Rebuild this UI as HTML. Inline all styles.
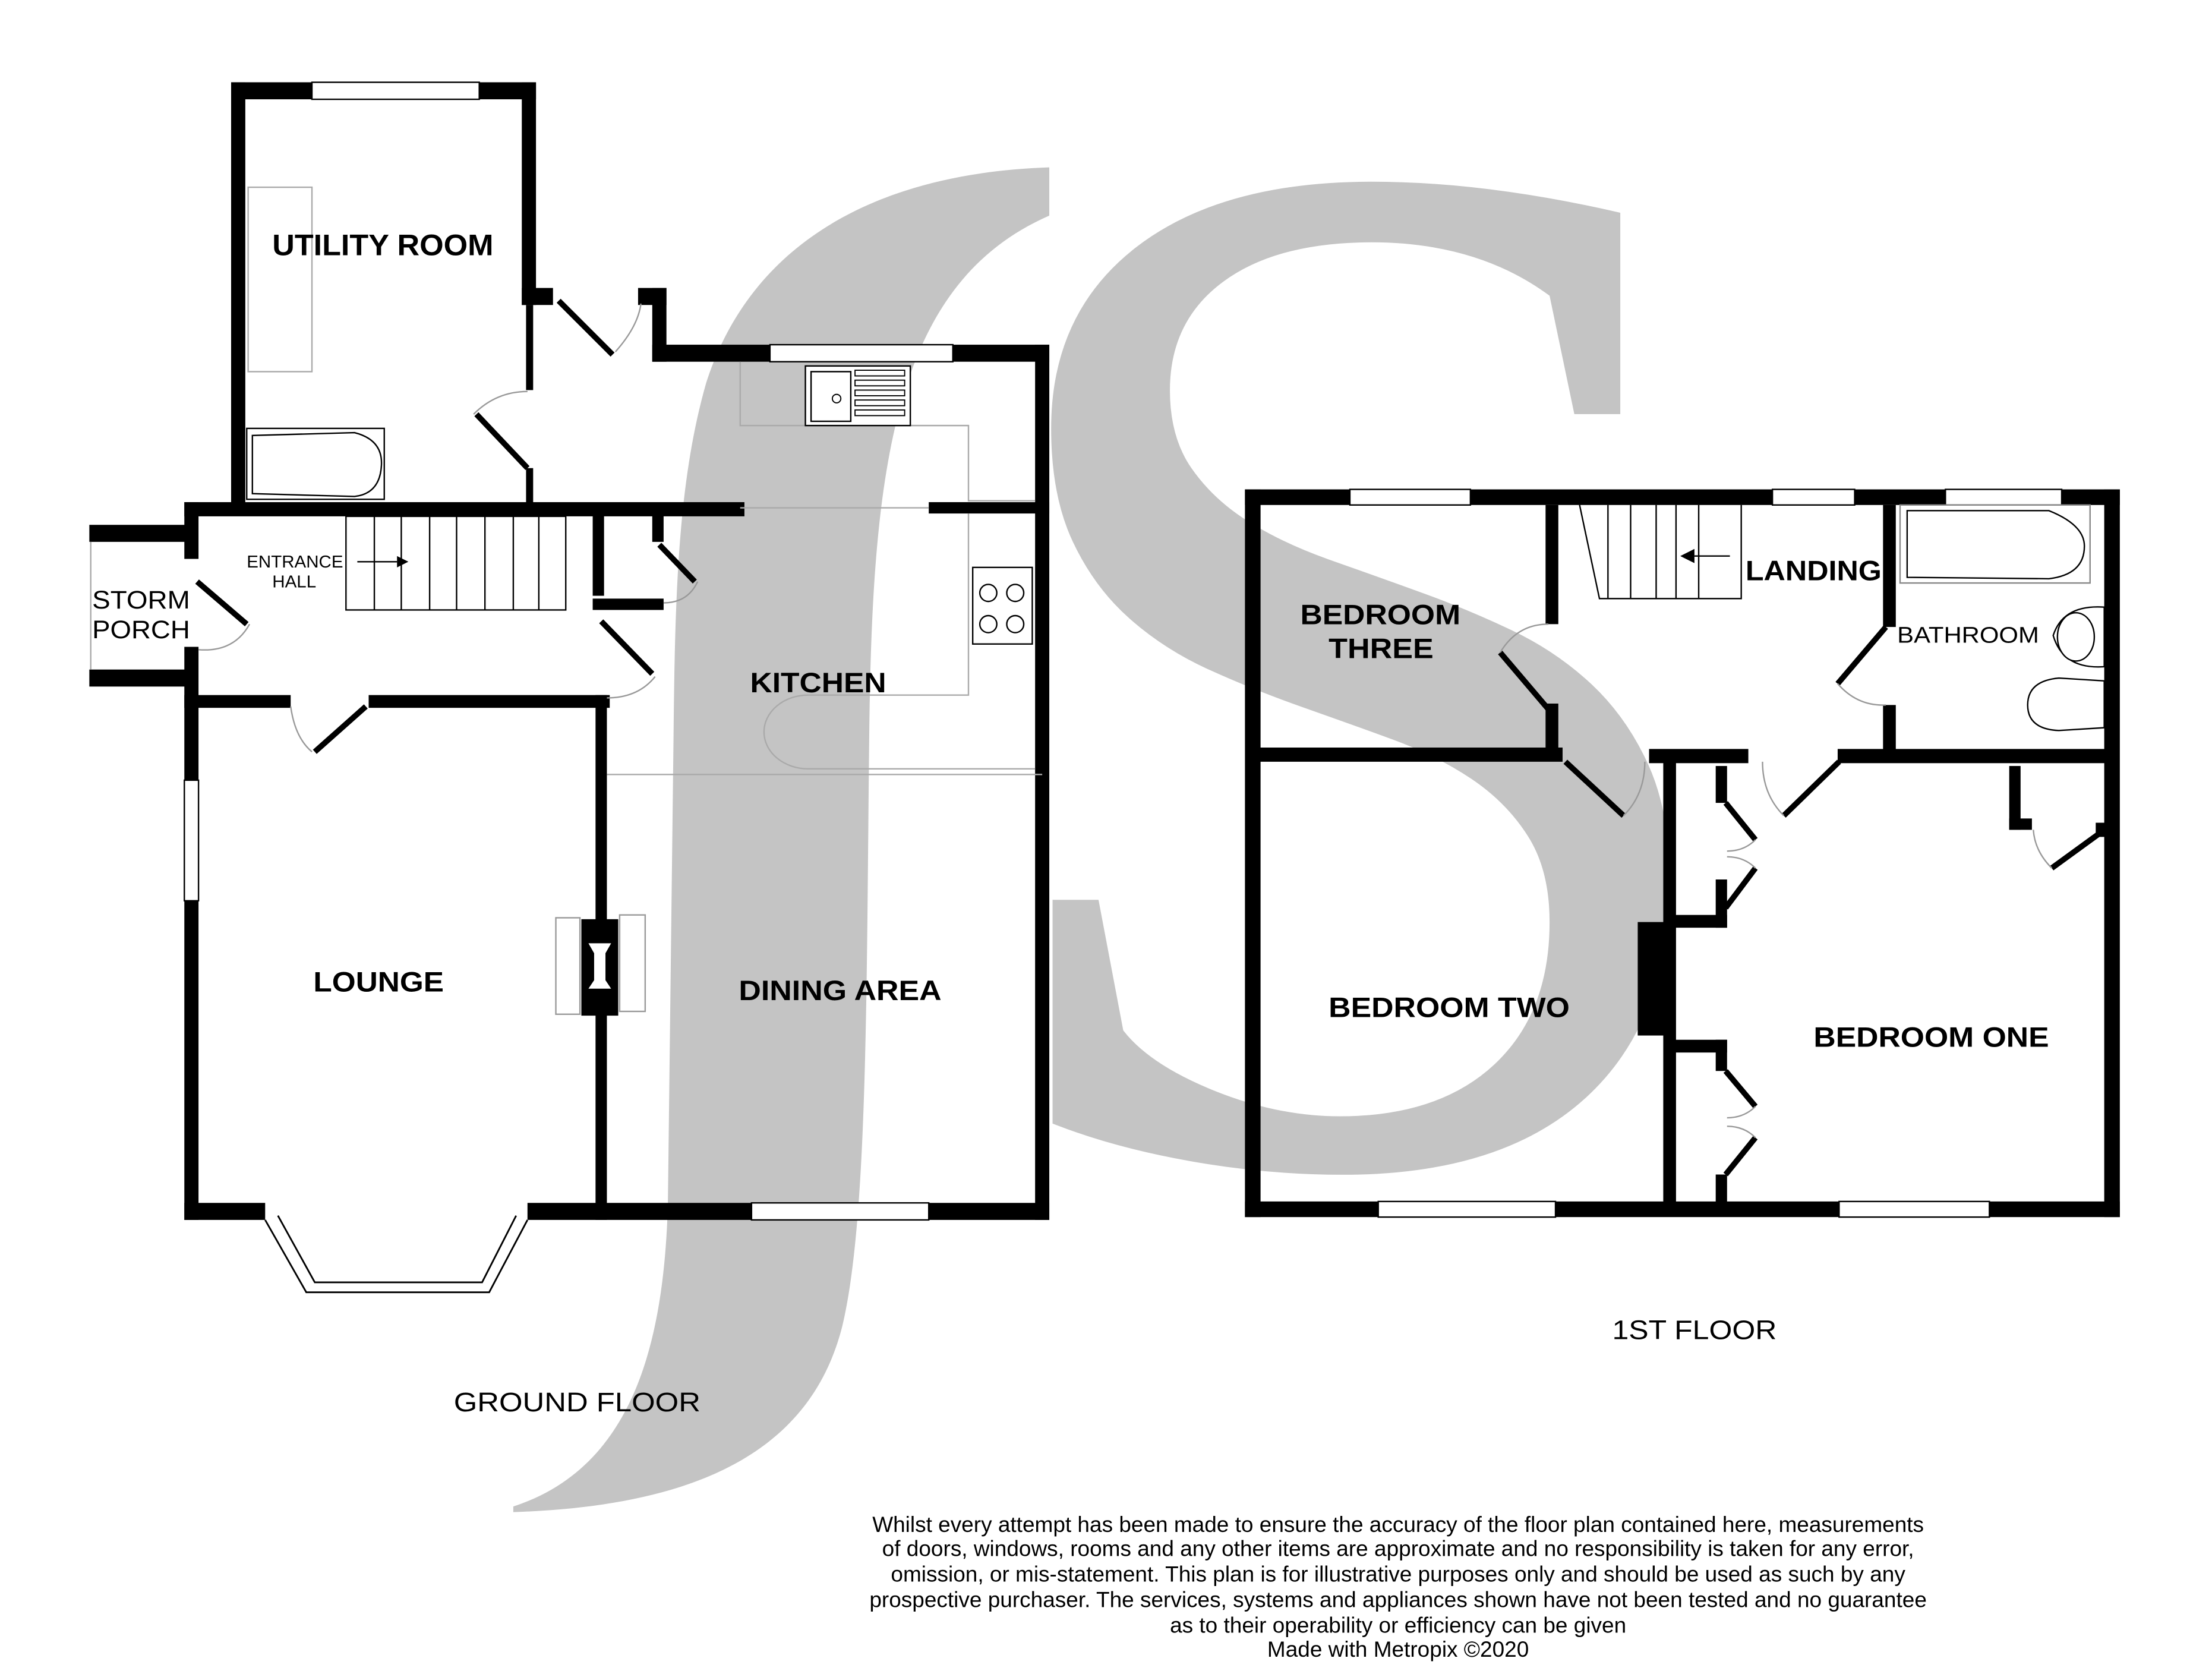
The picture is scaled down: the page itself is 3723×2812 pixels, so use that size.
<!DOCTYPE html>
<html><head><meta charset="utf-8"><style>
html,body{margin:0;padding:0;background:#fff;}
svg{display:block;}
</style></head><body>
<svg width="3723" height="2812" viewBox="0 0 1560 1178" preserveAspectRatio="none" xmlns="http://www.w3.org/2000/svg" font-family="Liberation Sans, sans-serif">
<rect width="1560" height="1178" fill="#fff"/>
<path fill="#c4c4c4" d="M740,118 C620,122 530,170 498,270 C478,340 476,420 475,520 L471,850 C468,950 445,1035 362,1062 L362,1066 C480,1062 570,1030 594,935 C612,860 611,700 613,520 C615,330 630,200 740,152 Z"/>
<text transform="translate(673,818) scale(0.98,1)" style="font-family:'Liberation Serif',serif;font-size:1042px;fill:#c4c4c4">S</text>
<g fill="#000">
<rect x="163" y="58" width="10" height="300"/>
<rect x="163" y="58" width="215" height="12"/>
<rect x="368" y="58" width="10" height="157"/>
<rect x="368" y="203" width="22" height="12"/>
<rect x="450" y="203" width="20" height="12"/>
<rect x="460" y="203" width="10" height="52"/>
<rect x="460" y="243" width="280" height="12"/>
<rect x="730" y="243" width="10" height="617"/>
<rect x="371" y="215" width="5" height="60"/>
<rect x="371" y="330" width="5" height="28"/>
<rect x="130" y="354" width="395" height="10"/>
<rect x="655" y="354" width="85" height="8"/>
<rect x="130" y="354" width="10" height="40"/>
<rect x="130" y="456" width="10" height="404"/>
<rect x="63" y="370" width="72" height="12"/>
<rect x="63" y="472" width="72" height="12"/>
<rect x="130" y="490" width="75" height="9"/>
<rect x="260" y="490" width="170" height="9"/>
<rect x="418" y="362" width="8" height="58"/>
<rect x="418" y="422" width="50" height="8"/>
<rect x="460" y="362" width="8" height="20"/>
<rect x="420" y="490" width="8" height="370"/>
<rect x="130" y="848" width="57" height="12"/>
<rect x="372" y="848" width="368" height="12"/>
<rect x="410" y="648" width="26" height="68"/>
</g>
<g fill="#fff" stroke="#000" stroke-width="1">
<rect x="220" y="58" width="118" height="12"/>
<rect x="543" y="243" width="129" height="12"/>
<rect x="530" y="848" width="125" height="12"/>
<rect x="130" y="550" width="10" height="85"/>
</g>
<line x1="64" y1="382" x2="64" y2="472" stroke="#aaa" stroke-width="1"/>
<rect x="392" y="647" width="17" height="68" fill="#fff" stroke="#999" stroke-width="1"/>
<rect x="437" y="645" width="18" height="68" fill="#fff" stroke="#999" stroke-width="1"/>
<path d="M415,665 L419,672 L419,691 L415,697 L431,697 L427,691 L427,672 L431,665 Z" fill="#fff"/>
<g stroke="#000" stroke-width="1.2" fill="none">
<path d="M187,860 L216,911 L345,911 L372,860"/>
<path d="M196,857 L222,904 L340,904 L364,857"/>
</g>
<g stroke="#000" stroke-width="4" fill="none">
<line x1="394" y1="212" x2="432" y2="250"/>
<line x1="336" y1="292" x2="372" y2="330"/>
<line x1="139" y1="410" x2="174" y2="440"/>
<line x1="222" y1="530" x2="258" y2="498"/>
<line x1="465" y1="384" x2="490" y2="410"/>
<line x1="424" y1="438" x2="460" y2="475"/>
</g>
<g stroke="#999" stroke-width="1" fill="none">
<path d="M434,248 Q450,230 452,214"/>
<path d="M334,292 Q350,276 372,276"/>
<path d="M176,440 Q165,460 140,458"/>
<path d="M205,498 Q208,520 220,530"/>
<path d="M492,410 Q485,425 468,425"/>
<path d="M462,477 Q450,492 428,492"/>
</g>
<g stroke="#000" stroke-width="1" fill="none">
<rect x="244" y="364" width="155" height="66"/>
<line x1="264" y1="364" x2="264" y2="430"/><line x1="283" y1="364" x2="283" y2="430"/>
<line x1="303" y1="364" x2="303" y2="430"/><line x1="322" y1="364" x2="322" y2="430"/>
<line x1="342" y1="364" x2="342" y2="430"/><line x1="362" y1="364" x2="362" y2="430"/>
<line x1="380" y1="364" x2="380" y2="430"/>
<line x1="252" y1="396" x2="280" y2="396"/>
</g>
<path d="M280,392 L288,396 L280,400Z"/>
<g stroke="#aaa" stroke-width="1" fill="none">
<path d="M522,255 L522,300 L683,300 L683,353 L730,353"/>
<path d="M683,362 L683,490 L570,490 A30,25 0 0 0 570,542 L730,542"/>
<line x1="428" y1="546" x2="735" y2="546"/>
<line x1="522" y1="358" x2="655" y2="358"/>
<rect x="175" y="132" width="45" height="130"/>
</g>
<g stroke="#000" stroke-width="1" fill="#fff">
<rect x="568" y="258" width="74" height="42"/>
<rect x="572" y="262" width="28" height="35" fill="none"/>
<rect x="174" y="302" width="97" height="50"/>
<path d="M178,307 L250,305 Q270,310 269,328 Q268,348 250,350 L178,348 Z"/>
<rect x="686" y="400" width="42" height="54"/>
<circle cx="697" cy="418" r="6"/><circle cx="716" cy="418" r="6"/>
<circle cx="697" cy="440" r="6"/><circle cx="716" cy="440" r="6"/>
</g>
<g stroke="#000" stroke-width="0.8" fill="none">
<rect x="603" y="261" width="35" height="4"/><rect x="603" y="268" width="35" height="4"/>
<rect x="603" y="275" width="35" height="4"/><rect x="603" y="282" width="35" height="4"/>
<rect x="603" y="289" width="35" height="4"/>
<circle cx="590" cy="281" r="3"/>
</g>
<g fill="#000">
<rect x="878" y="345" width="617" height="11"/>
<rect x="878" y="847" width="617" height="11"/>
<rect x="878" y="345" width="11" height="513"/>
<rect x="1484" y="345" width="11" height="513"/>
<rect x="880" y="527" width="222" height="10"/>
<rect x="1090" y="356" width="9" height="84"/>
<rect x="1090" y="496" width="9" height="40"/>
<rect x="1328" y="356" width="9" height="86"/>
<rect x="1328" y="497" width="9" height="33"/>
<rect x="1163" y="528" width="70" height="10"/>
<rect x="1296" y="528" width="190" height="10"/>
<rect x="1173" y="532" width="9" height="318"/>
<rect x="1155" y="650" width="22" height="80"/>
<rect x="1210" y="540" width="8" height="26"/>
<rect x="1178" y="645" width="40" height="9"/>
<rect x="1210" y="620" width="8" height="34"/>
<rect x="1178" y="733" width="40" height="9"/>
<rect x="1210" y="733" width="8" height="22"/>
<rect x="1210" y="828" width="8" height="22"/>
<rect x="1417" y="540" width="8" height="45"/>
<rect x="1417" y="577" width="16" height="8"/>
<rect x="1478" y="580" width="8" height="10"/>
</g>
<g fill="#fff" stroke="#000" stroke-width="1">
<rect x="952" y="345" width="85" height="11"/>
<rect x="1250" y="345" width="58" height="11"/>
<rect x="1372" y="345" width="82" height="11"/>
<rect x="972" y="847" width="125" height="11"/>
<rect x="1297" y="847" width="106" height="11"/>
</g>
<g stroke="#000" stroke-width="4" fill="none">
<line x1="1058" y1="460" x2="1092" y2="500"/>
<line x1="1104" y1="537" x2="1145" y2="575"/>
<line x1="1258" y1="575" x2="1297" y2="537"/>
<line x1="1296" y1="482" x2="1330" y2="442"/>
<line x1="1217" y1="566" x2="1238" y2="592"/>
<line x1="1217" y1="640" x2="1238" y2="612"/>
<line x1="1217" y1="755" x2="1238" y2="780"/>
<line x1="1217" y1="828" x2="1238" y2="802"/>
<line x1="1447" y1="612" x2="1480" y2="588"/>
</g>
<g stroke="#999" stroke-width="1" fill="none">
<path d="M1058,460 Q1070,440 1092,440"/>
<path d="M1145,575 Q1160,560 1160,537"/>
<path d="M1258,575 Q1243,560 1243,537"/>
<path d="M1296,482 Q1310,498 1330,497"/>
<path d="M1238,592 Q1230,600 1218,600 M1238,612 Q1230,604 1218,604"/>
<path d="M1238,780 Q1230,788 1218,788 M1238,802 Q1230,794 1218,794"/>
<path d="M1447,612 Q1435,600 1434,585"/>
</g>
<g stroke="#000" stroke-width="1" fill="none">
<path d="M1114,356 L1128,422 L1228,422 L1228,356"/>
<line x1="1134" y1="356" x2="1134" y2="422"/><line x1="1150" y1="356" x2="1150" y2="422"/>
<line x1="1168" y1="356" x2="1168" y2="422"/><line x1="1182" y1="356" x2="1182" y2="422"/>
<line x1="1198" y1="356" x2="1198" y2="422"/>
<line x1="1195" y1="392" x2="1220" y2="392"/>
</g>
<path d="M1185,392 L1195,387 L1195,397Z"/>
<g stroke="#000" stroke-width="1" fill="#fff">
<rect x="1340" y="356" width="134" height="55" stroke="#888"/>
<path d="M1345,360 L1445,360 Q1470,370 1470,385 Q1470,405 1445,408 L1345,407 Z"/>
<path d="M1484,428 Q1455,426 1448,448 Q1455,472 1484,470 Z"/>
<ellipse cx="1464" cy="449" rx="13" ry="17"/>
<path d="M1484,480 L1452,478 Q1430,480 1430,497 Q1430,514 1452,515 L1484,513 Z"/>
</g>
<g fill="#000" font-weight="bold">
<text x="192" y="180" font-size="21" textLength="156" lengthAdjust="spacingAndGlyphs">UTILITY ROOM</text>
<text x="529" y="488" font-size="20" textLength="96" lengthAdjust="spacingAndGlyphs">KITCHEN</text>
<text x="221" y="699" font-size="20" textLength="92" lengthAdjust="spacingAndGlyphs">LOUNGE</text>
<text x="521" y="705" font-size="20" textLength="143" lengthAdjust="spacingAndGlyphs">DINING AREA</text>
<text x="65" y="429" font-size="18" font-weight="normal" textLength="69" lengthAdjust="spacingAndGlyphs">STORM</text>
<text x="65" y="450" font-size="18" font-weight="normal" textLength="69" lengthAdjust="spacingAndGlyphs">PORCH</text>
<text x="174" y="400" font-size="12" font-weight="normal" textLength="68" lengthAdjust="spacingAndGlyphs">ENTRANCE</text>
<text x="192" y="414" font-size="12" font-weight="normal" textLength="31" lengthAdjust="spacingAndGlyphs">HALL</text>
<text x="917" y="440" font-size="20" textLength="113" lengthAdjust="spacingAndGlyphs">BEDROOM</text>
<text x="937" y="464" font-size="20" textLength="74" lengthAdjust="spacingAndGlyphs">THREE</text>
<text x="1231" y="409" font-size="20" textLength="96" lengthAdjust="spacingAndGlyphs">LANDING</text>
<text x="1338" y="453" font-size="16" font-weight="normal" textLength="100" lengthAdjust="spacingAndGlyphs">BATHROOM</text>
<text x="937" y="717" font-size="20" textLength="170" lengthAdjust="spacingAndGlyphs">BEDROOM TWO</text>
<text x="1279" y="738" font-size="20" textLength="166" lengthAdjust="spacingAndGlyphs">BEDROOM ONE</text>
<text x="320" y="995" font-size="19" font-weight="normal" textLength="174" lengthAdjust="spacingAndGlyphs">GROUND FLOOR</text>
<text x="1137" y="944" font-size="19" font-weight="normal" textLength="116" lengthAdjust="spacingAndGlyphs">1ST FLOOR</text>
</g>
<g font-size="15.5" fill="#000" text-anchor="middle">
<text x="986" y="1080">Whilst every attempt has been made to ensure the accuracy of the floor plan contained here, measurements</text>
<text x="986" y="1097">of doors, windows, rooms and any other items are approximate and no responsibility is taken for any error,</text>
<text x="986" y="1115">omission, or mis-statement. This plan is for illustrative purposes only and should be used as such by any</text>
<text x="986" y="1133">prospective purchaser. The services, systems and appliances shown have not been tested and no guarantee</text>
<text x="986" y="1151">as to their operability or efficiency can be given</text>
<text x="986" y="1168">Made with Metropix ©2020</text>
</g>
</svg>
</body></html>
